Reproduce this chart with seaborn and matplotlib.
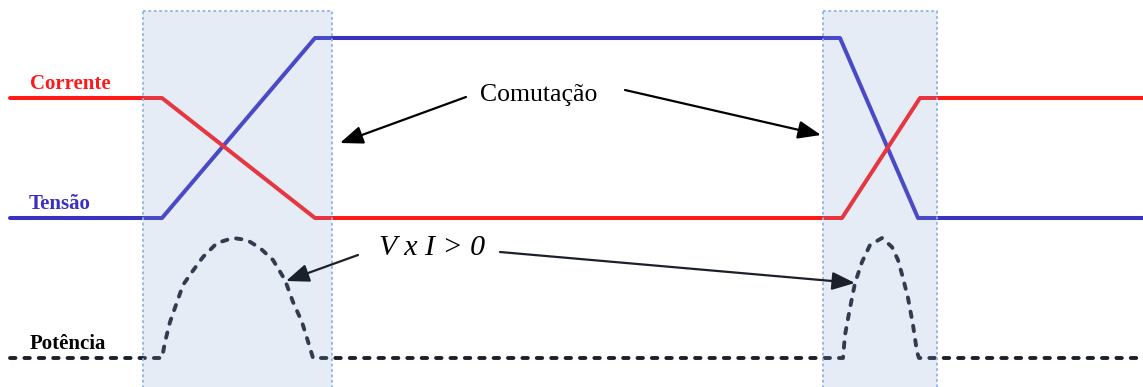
import numpy as np
import pandas as pd
import seaborn as sns
import matplotlib.pyplot as plt
from matplotlib.patches import Rectangle

# Waveforms (pixel-like units, y grows downward)
tensao_x = [10, 162, 315, 840, 918, 1143]
tensao_y = [218, 218, 38, 38, 218, 218]

corrente_x = [10, 162, 315, 842, 920, 1143]
corrente_y = [98, 98, 218, 218, 98, 98]

potencia_x = [10, 162, 165, 170, 177, 183, 192, 203, 217, 233, 247, 260, 273, 285, 293, 302, 310, 313,
              843, 845, 850, 855, 862, 870, 882, 892, 898, 903, 908, 913, 917, 919, 1143]
potencia_y = [358, 358, 342, 322, 302, 285, 272, 257, 243, 238, 240, 248, 260, 280, 302, 322, 348, 358,
              358, 335, 308, 283, 262, 245, 238, 247, 260, 278, 298, 325, 352, 358, 358]

# Switching windows
box_left = [143, 823]
box_right = [332, 937]
box_top = 11

red = '#ff1a1a'
blue = '#3a30c2'
dark = '#1b202b'

sns.set_style('white')
plt.rcParams['font.family'] = ['Liberation Serif', 'DejaVu Serif']

fig = plt.figure(figsize=(11.43, 3.87), dpi=100)
ax = fig.add_axes([0, 0, 1, 1])

df_v = pd.DataFrame({'x': tensao_x, 'y': tensao_y})
df_i = pd.DataFrame({'x': corrente_x, 'y': corrente_y})
df_p = pd.DataFrame({'x': potencia_x, 'y': potencia_y})

sns.lineplot(data=df_v, x='x', y='y', sort=False, color=blue, lw=2.9, ax=ax, zorder=2)
sns.lineplot(data=df_i, x='x', y='y', sort=False, color=red, lw=2.9, ax=ax, zorder=3)
sns.lineplot(data=df_p, x='x', y='y', sort=False, color=dark, lw=2.8, ax=ax, zorder=2,
             dashes=False)
ax.lines[-1].set_dashes([1.4, 2.3])
ax.lines[-1].set_dash_capstyle('round')
ax.lines[-1].set_solid_joinstyle('round')

for l, r in zip(box_left, box_right):
    ax.add_patch(Rectangle((l, box_top), r - l, 400, facecolor='#88a7d6', alpha=0.21,
                           edgecolor='none', zorder=4))
    ax.add_patch(Rectangle((l, box_top), r - l, 400, facecolor='none', edgecolor='#8fb4e3',
                           lw=1.3, ls=(0, (1.5, 1.5)), zorder=5))

# labels
ax.text(70, 84, 'Corrente', color=red, fontsize=15, fontweight='bold', ha='center', va='center')
ax.text(60, 204, 'Tensão', color=blue, fontsize=15, fontweight='bold', ha='center', va='center')
ax.text(68, 344, 'Potência', color='black', fontsize=15, fontweight='bold', ha='center', va='center')

ax.text(539, 95, 'Comutação', color='black', fontsize=18.5, ha='center', va='center')
ax.text(432, 248, 'V x I > 0', color='black', fontsize=21.5, style='italic', ha='center', va='center')

arrow = dict(arrowstyle='-|>,head_length=1.4,head_width=0.55', color='black', lw=1.6,
             shrinkA=0, shrinkB=0)
ax.annotate('', xy=(340, 143), xytext=(466, 97), arrowprops=arrow, zorder=6)
ax.annotate('', xy=(821, 135), xytext=(625, 90), arrowprops=arrow, zorder=6)
arrow2 = dict(arrow, color=dark)
ax.annotate('', xy=(286, 281), xytext=(358, 255), arrowprops=arrow2, zorder=6)
ax.annotate('', xy=(855, 283), xytext=(500, 252), arrowprops=arrow2, zorder=6)

ax.set_xlim(0, 1143)
ax.set_ylim(387, 0)
ax.axis('off')

fig.savefig('out.png', dpi=100)
